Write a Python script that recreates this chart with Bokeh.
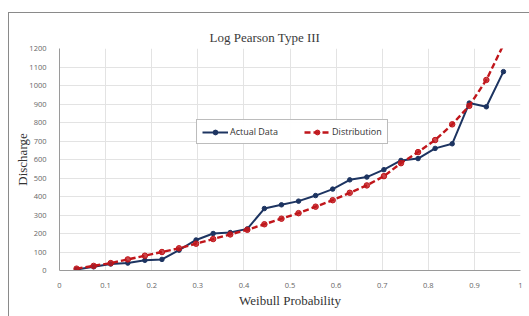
from bokeh.plotting import figure
from bokeh.models import Range1d, FixedTicker, Legend, LegendItem
from bokeh.embed import file_html
from bokeh.resources import INLINE

# Weibull probabilities m/(n+1), n = 26
prob = [1/27, 2/27, 3/27, 4/27, 5/27, 6/27, 7/27, 8/27, 9/27, 10/27, 11/27, 12/27, 13/27,
        14/27, 15/27, 16/27, 17/27, 18/27, 19/27, 20/27, 21/27, 22/27, 23/27, 24/27, 25/27, 26/27]
actual = [5, 20, 35, 40, 55, 60, 110, 165, 200, 205, 225, 335, 355,
          375, 405, 440, 490, 505, 545, 595, 605, 660, 685, 905, 885, 1075]
distribution = [10, 25, 40, 60, 80, 100, 120, 145, 170, 195, 220, 250, 280,
                310, 345, 380, 420, 460, 510, 580, 640, 705, 790, 890, 1030, 1220]

x_ticks = [0, 0.1, 0.2, 0.3, 0.4, 0.5, 0.6, 0.7, 0.8, 0.9, 1]
x_tick_labels = ["0", "0.1", "0.2", "0.3", "0.4", "0.5", "0.6", "0.7", "0.8", "0.9", "1"]
y_ticks = [0, 100, 200, 300, 400, 500, 600, 700, 800, 900, 1000, 1100, 1200]

NAVY = "#1d3461"
RED = "#c0161b"
SERIF = "Liberation Serif"
SANS = "Open Sans"

p = figure(width=521, height=304, output_backend="svg", toolbar_location=None,
           x_range=Range1d(0, 1), y_range=Range1d(0, 1200),
           min_border_left=50, min_border_right=10, min_border_top=35, min_border_bottom=47)
p.margin = (12, 0, 0, 8)
p.styles = {"border-left": "1px solid #8a8a8a", "border-top": "1px solid #8a8a8a"}

p.title.text = "Log Pearson Type III"
p.title.align = "left"
p.title.offset = 150
p.title.standoff = 4
p.title.vertical_align = "top"
p.title.text_font = SERIF
p.title.text_font_size = "13px"
p.title.text_font_style = "normal"
p.title.text_color = "#3a3a3a"

p.outline_line_color = None
p.background_fill_color = "white"
p.border_fill_color = "white"

p.xaxis.ticker = FixedTicker(ticks=x_ticks)
p.xaxis.major_label_overrides = {t: l for t, l in zip(x_ticks, x_tick_labels)}
p.yaxis.ticker = FixedTicker(ticks=y_ticks)

for ax in (p.xaxis, p.yaxis):
    ax.major_label_text_font = SANS
    ax.major_label_text_font_size = "7.5px"
    ax.major_label_text_color = "#666666"
    ax.axis_line_color = "#9a9a9a"
    ax.major_tick_line_color = None
    ax.minor_tick_line_color = None
    ax.axis_label_text_font = SERIF
    ax.axis_label_text_font_size = "13px"
    ax.axis_label_text_font_style = "normal"
    ax.axis_label_text_color = "#333333"

p.xaxis.axis_label = "Weibull Probability"
p.yaxis.axis_label = "Discharge"
p.xaxis.major_label_standoff = 6
p.xaxis.axis_label_standoff = 2
p.yaxis.major_label_standoff = 7
p.yaxis.axis_label_standoff = -4

p.xgrid.ticker = FixedTicker(ticks=x_ticks)
p.ygrid.ticker = FixedTicker(ticks=y_ticks)
p.xgrid.grid_line_color = "#e3e3e3"
p.ygrid.grid_line_color = "#e3e3e3"

l1 = p.line(prob, actual, line_color=NAVY, line_width=2.0)
c1 = p.scatter(prob, actual, size=4.5, fill_color=NAVY, line_color=NAVY)
l2 = p.line(prob, distribution, line_color=RED, line_width=2.4, line_dash="6 3")
c2 = p.scatter(prob, distribution, size=5.5, fill_color=RED, line_color=RED, fill_alpha=0.8)

legend = Legend(items=[LegendItem(label="Actual Data", renderers=[l1, c1]),
                       LegendItem(label="Distribution", renderers=[l2, c2])],
                orientation="horizontal", location=(137, 126),
                label_text_font=SANS, label_text_font_size="9px", label_text_color="#333333",
                border_line_color="#7a7a7a", border_line_width=1,
                padding=5, spacing=26, glyph_width=26, glyph_height=12, label_standoff=2,
                margin=0)
p.add_layout(legend, "center")

open("out.html", "w").write(file_html(p, INLINE))
